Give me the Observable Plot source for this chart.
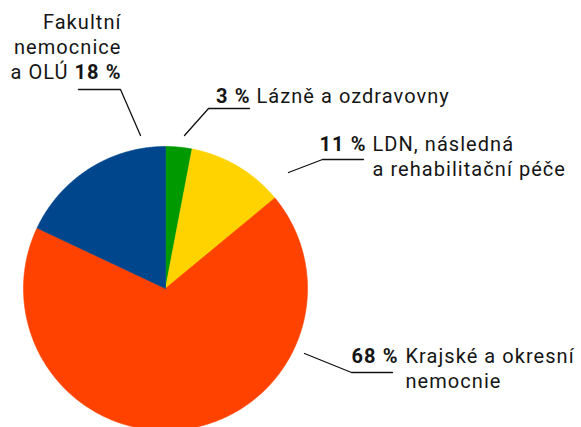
<!DOCTYPE html>
<html>
<head>
<meta charset="utf-8">
<script src="https://cdn.jsdelivr.net/npm/d3@7"></script>
<script src="https://cdn.jsdelivr.net/npm/@observablehq/plot@0.6"></script>
<style>
  html, body { margin: 0; padding: 0; background: #fff; }
  #chart svg { display: block; }
  #chart svg text { letter-spacing: 1.05px; }
</style>
</head>
<body>
<div id="chart"></div>
<script>
// ---- data ----
const categories = ["Lázně a ozdravovny", "LDN, následná a rehabilitační péče", "Krajské a okresní nemocnie", "Fakultní nemocnice a OLÚ"];
const shares = [3, 11, 68, 18];
const sliceColors = ["#009a00", "#ffd300", "#ff4200", "#00468c"];
const labelLines = [
  ["Lázně a ozdravovny"],
  ["LDN, následná", "a rehabilitační péče"],
  ["Krajské a okresní", "nemocnie"],
  ["Fakultní", "nemocnice", "a OLÚ"]
];

// ---- layout (pixels) ----
const W = 581, H = 427;
const cx = 165, cy = 288, R = 142;
const fontFamily = "Roboto, 'DejaVu Sans', sans-serif";
const fontSize = 20;
// per label: percent anchor {x,y,anchor}, text lines [{x,y,anchor}]
const labelLayout = [
  {pct: {x: 250, y: 102, a: "end"}, lines: [{x: 256, y: 102, a: "start"}]},
  {pct: {x: 366, y: 150, a: "end"}, lines: [{x: 372, y: 150, a: "start"}, {x: 372, y: 175, a: "start"}]},
  {pct: {x: 398, y: 362, a: "end"}, lines: [{x: 405, y: 362, a: "start"}, {x: 405, y: 387, a: "start"}]},
  {pct: {x: 121, y: 78, a: "end"}, lines: [{x: 121, y: 28, a: "end"}, {x: 121, y: 53, a: "end"}, {x: 68, y: 78, a: "end"}]}
];
const leaders = [
  [[184, 135], [208, 108], [249, 108]],
  [[288, 172], [322, 159], [363, 159]],
  [[304, 353], [351, 372], [392, 372]],
  [[140, 135], [120, 89], [78, 89]]
];

// ---- build pie geometry from values ----
const arcs = d3.pie().sort(null).value(d => d)(shares);
const slicePts = [];
arcs.forEach((a, i) => {
  slicePts.push({cat: categories[i], x: cx, y: cy});
  const n = Math.max(4, Math.ceil((a.endAngle - a.startAngle) / 0.01));
  for (let k = 0; k <= n; k++) {
    const t = a.startAngle + (a.endAngle - a.startAngle) * k / n;
    slicePts.push({cat: categories[i], x: cx + R * Math.sin(t), y: cy - R * Math.cos(t)});
  }
  slicePts.push({cat: categories[i], x: cx, y: cy});
});

const leaderPts = [];
leaders.forEach((pts, i) => pts.forEach(([x, y]) => leaderPts.push({id: i, x, y})));

const pctTexts = labelLayout.map((l, i) => ({text: shares[i] + " %", x: l.pct.x, y: l.pct.y, a: l.pct.a}));
const lineTexts = [];
labelLayout.forEach((l, i) => l.lines.forEach((p, j) => lineTexts.push({text: labelLines[i][j], x: p.x, y: p.y, a: p.a})));

const textMarks = (rows, weight) => ["start", "end"].map(anchor =>
  Plot.text(rows.filter(d => d.a === anchor), {
    x: "x", y: "y", text: "text", textAnchor: anchor, lineAnchor: "bottom",
    fontSize, fontWeight: weight, fill: "#151515", fontFamily
  })
);

const chart = Plot.plot({
  width: W, height: H,
  margin: 0,
  x: {domain: [0, W], range: [0, W], axis: null},
  y: {domain: [0, H], range: [0, H], axis: null},
  color: {domain: categories, range: sliceColors},
  style: {fontFamily, background: "#fff"},
  marks: [
    Plot.line(slicePts, {x: "x", y: "y", z: "cat", fill: "cat", stroke: "cat", strokeWidth: 0.6, curve: "linear"}),
    Plot.line(leaderPts, {x: "x", y: "y", z: "id", stroke: "#111", strokeWidth: 1.3}),
    ...textMarks(pctTexts, "bold"),
    ...textMarks(lineTexts, "normal")
  ]
});
document.getElementById("chart").appendChild(chart);
</script>
</body>
</html>
